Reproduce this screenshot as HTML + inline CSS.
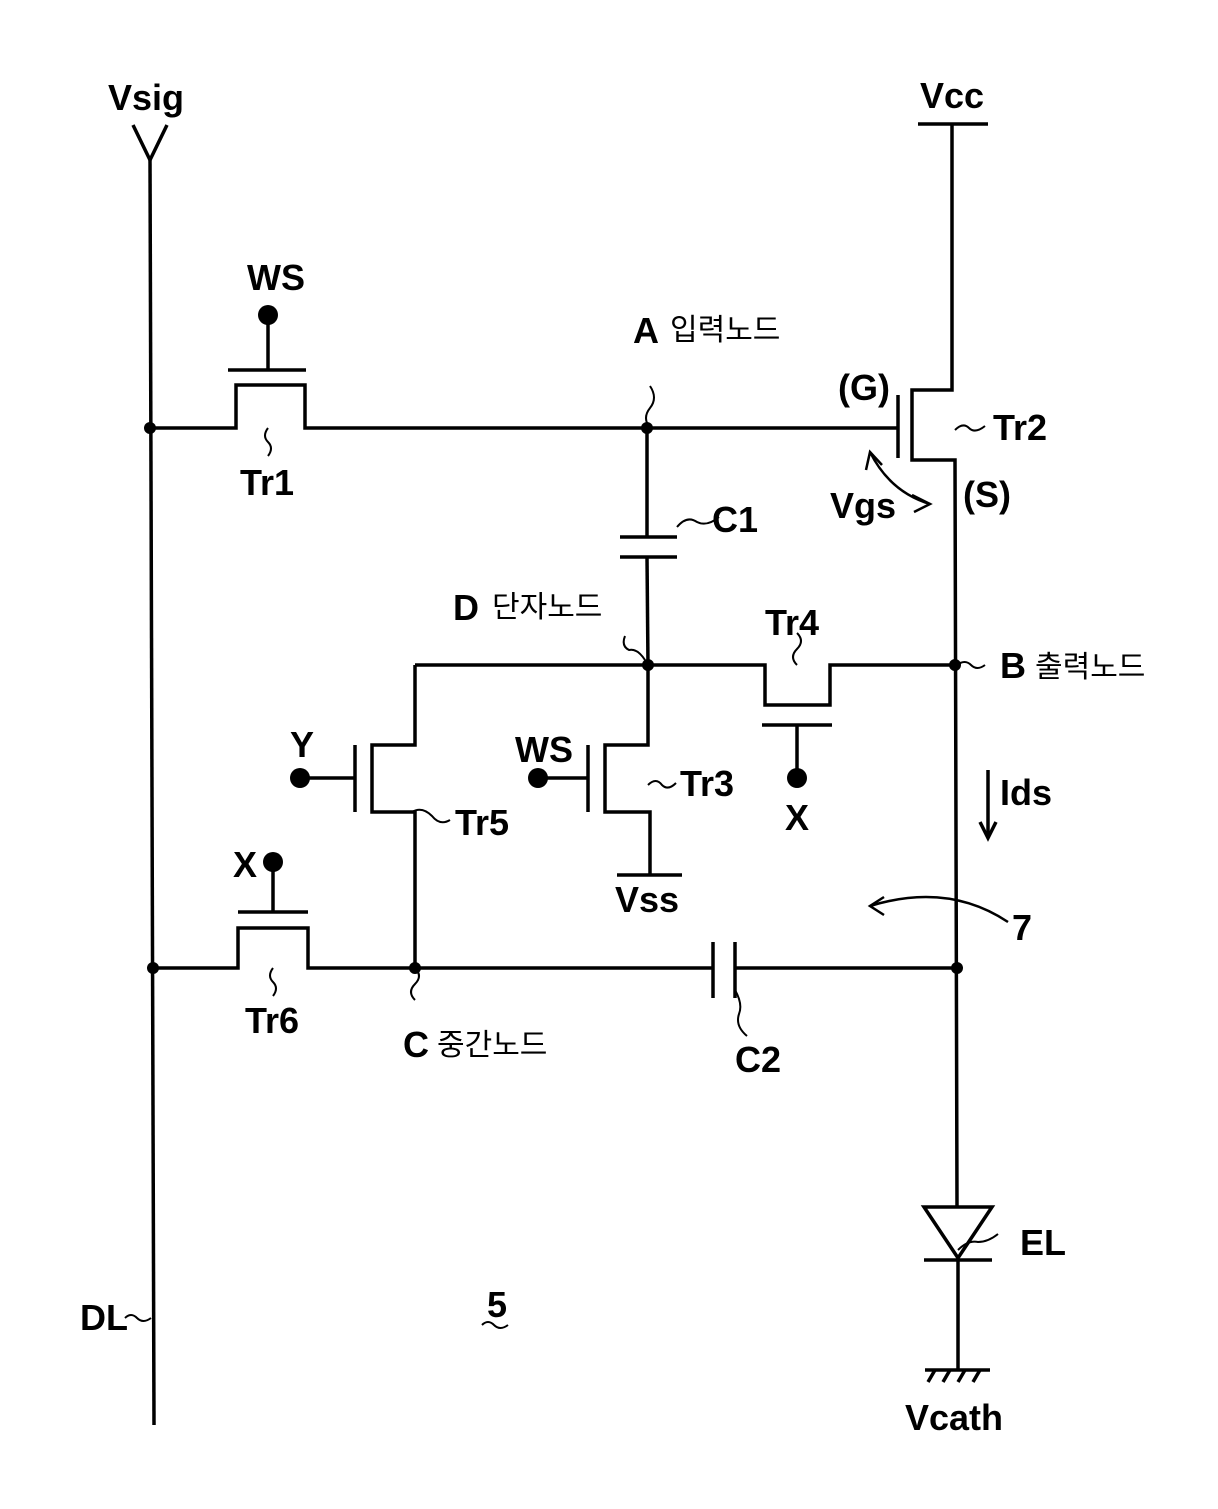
<!DOCTYPE html>
<html><head><meta charset="utf-8"><style>
html,body{margin:0;padding:0;background:#fff}
svg{display:block}
text{font-family:"Liberation Sans","Noto Sans CJK KR",sans-serif;fill:#000}
.l{font-size:36px;font-weight:bold}
.k{font-size:30px}
</style></head><body>
<svg width="1218" height="1509" viewBox="0 0 1218 1509" xmlns="http://www.w3.org/2000/svg">
<g stroke="#000" stroke-width="3.5" fill="none">
<polyline points="133,125 150,160 167,125"/>
<line x1="150" y1="158" x2="154" y2="1425"/>
<line x1="918" y1="124" x2="988" y2="124"/>
<polyline points="952,124 952,390 912,390 912,460 955,460 957,1207"/>
<line x1="898" y1="395" x2="898" y2="458"/>
<polyline points="150,428 236,428 236,385 305,385 305,428 898,428"/>
<line x1="228" y1="370" x2="306" y2="370"/>
<line x1="268" y1="315" x2="268" y2="370"/>
<line x1="647" y1="428" x2="647" y2="537"/>
<line x1="620" y1="537" x2="677" y2="537"/>
<line x1="620" y1="557" x2="677" y2="557"/>
<line x1="647" y1="557" x2="648" y2="665"/>
<polyline points="415,665 765,665 765,705 830,705 830,665 955,665"/>
<line x1="762" y1="725" x2="832" y2="725"/>
<line x1="797" y1="725" x2="797" y2="778"/>
<polyline points="415,665 415,745 372,745 372,812 415,812 415,968"/>
<line x1="355" y1="745" x2="355" y2="812"/>
<line x1="300" y1="778" x2="355" y2="778"/>
<polyline points="648,665 648,745 605,745 605,812 650,812 650,875"/>
<line x1="617" y1="875" x2="682" y2="875"/>
<line x1="588" y1="745" x2="588" y2="812"/>
<line x1="538" y1="778" x2="588" y2="778"/>
<polyline points="153,968 238,968 238,928 308,928 308,968 713,968"/>
<line x1="238" y1="912" x2="308" y2="912"/>
<line x1="273" y1="862" x2="273" y2="912"/>
<line x1="713" y1="942" x2="713" y2="998"/>
<line x1="735" y1="942" x2="735" y2="998"/>
<line x1="735" y1="968" x2="957" y2="968"/>
<polygon points="924,1207 992,1207 958,1258"/>
<line x1="924" y1="1260" x2="992" y2="1260"/>
<line x1="958" y1="1260" x2="958" y2="1370"/>
<line x1="925" y1="1370" x2="990" y2="1370"/>
<line x1="935" y1="1370" x2="928" y2="1382"/>
<line x1="950" y1="1370" x2="943" y2="1382"/>
<line x1="965" y1="1370" x2="958" y2="1382"/>
<line x1="980" y1="1370" x2="973" y2="1382"/>
<line x1="988" y1="770" x2="988" y2="838"/>
<polyline points="980,822 988,838 996,822"/>
<path d="M268,428 q-6,8 0,14 q6,6 0,14" stroke-width="2"/>
<path d="M650,428 q-8,-10 0,-20 q8,-10 0,-22" stroke-width="2"/>
<path d="M677,527 q10,-12 20,-5 q10,5 22,-5" stroke-width="2"/>
<path d="M955,430 q8,-8 14,-2 q6,6 16,-2" stroke-width="2"/>
<path d="M645,660 q-8,-12 -16,-10 q-8,-4 -4,-14" stroke-width="2"/>
<path d="M797,665 q-8,-8 0,-16 q8,-8 0,-16" stroke-width="2"/>
<path d="M957,665 q8,-6 14,0 q6,6 14,0" stroke-width="2"/>
<path d="M412,812 q10,-6 20,4 q8,10 18,4" stroke-width="2"/>
<path d="M648,785 q8,-8 14,0 q6,6 14,-2" stroke-width="2"/>
<path d="M273,968 q-6,8 0,14 q6,6 0,14" stroke-width="2"/>
<path d="M415,968 q8,8 0,16 q-8,8 0,16" stroke-width="2"/>
<path d="M735,990 q8,14 4,24 q-4,12 8,22" stroke-width="2"/>
<path d="M958,1250 q10,-10 20,-8 q10,0 20,-8" stroke-width="2"/>
<path d="M125,1318 q6,-6 12,0 q6,6 14,0" stroke-width="2"/>
<path d="M482,1325 q6,-6 12,0 q6,6 14,0" stroke-width="2"/>
<path d="M870,452 q20,40 60,52" stroke-width="2.5"/>
<polyline points="866,470 870,452 882,465" stroke-width="2.5"/>
<polyline points="912,495 930,504 914,512" stroke-width="2.5"/>
<path d="M1008,922 q-60,-40 -138,-16" stroke-width="2.5"/>
<polyline points="884,897 870,906 884,915" stroke-width="2.5"/>
</g>
<g fill="#000">
<circle cx="150" cy="428" r="6"/><circle cx="647" cy="428" r="6"/>
<circle cx="648" cy="665" r="6"/><circle cx="955" cy="665" r="6"/>
<circle cx="153" cy="968" r="6"/><circle cx="415" cy="968" r="6"/><circle cx="957" cy="968" r="6"/>
<circle cx="268" cy="315" r="10"/><circle cx="797" cy="778" r="10"/>
<circle cx="300" cy="778" r="10"/><circle cx="538" cy="778" r="10"/><circle cx="273" cy="862" r="10"/>
</g>
<text class="l" x="108" y="110">Vsig</text>
<text class="l" x="920" y="108">Vcc</text>
<text class="l" x="247" y="290">WS</text>
<text class="l" x="240" y="495">Tr1</text>
<text class="l" x="633" y="343">A</text><text class="k" x="670" y="340">입력노드</text>
<text class="l" x="838" y="400">(G)</text>
<text class="l" x="993" y="440">Tr2</text>
<text class="l" x="830" y="518">Vgs</text>
<text class="l" x="963" y="507">(S)</text>
<text class="l" x="712" y="532">C1</text>
<text class="l" x="453" y="620">D</text><text class="k" x="492" y="617">단자노드</text>
<text class="l" x="765" y="635">Tr4</text>
<text class="l" x="1000" y="678">B</text><text class="k" x="1035" y="677">출력노드</text>
<text class="l" x="290" y="757">Y</text>
<text class="l" x="515" y="762">WS</text>
<text class="l" x="680" y="796">Tr3</text>
<text class="l" x="455" y="835">Tr5</text>
<text class="l" x="785" y="830">X</text>
<text class="l" x="1000" y="805">Ids</text>
<text class="l" x="233" y="877">X</text>
<text class="l" x="615" y="912">Vss</text>
<text class="l" x="1012" y="940">7</text>
<text class="l" x="245" y="1033">Tr6</text>
<text class="l" x="403" y="1057">C</text><text class="k" x="437" y="1055">중간노드</text>
<text class="l" x="735" y="1072">C2</text>
<text class="l" x="1020" y="1255">EL</text>
<text class="l" x="80" y="1330">DL</text>
<text class="l" x="487" y="1317">5</text>
<text class="l" x="905" y="1430">Vcath</text>
</svg>
</body></html>
